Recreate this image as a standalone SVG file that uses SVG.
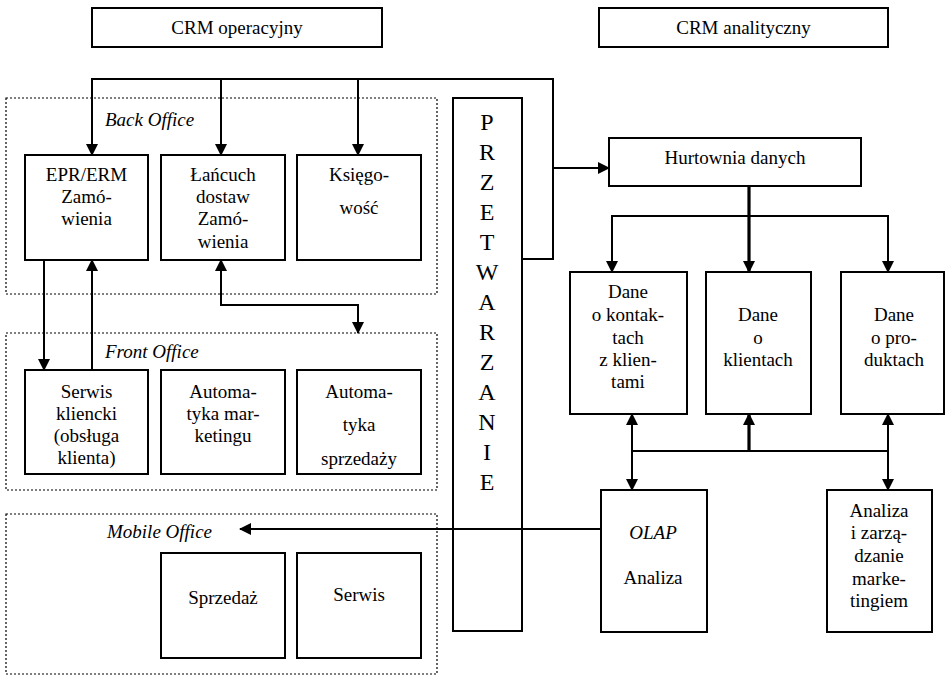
<svg xmlns="http://www.w3.org/2000/svg" width="946" height="676" viewBox="0 0 946 676" font-family="'Liberation Serif', 'DejaVu Serif', serif">
<style>
.box{fill:#fff;stroke:#000;stroke-width:2}
.grp{fill:none;stroke:#000;stroke-width:1.2;stroke-dasharray:2,2}
.t{font-family:'Liberation Serif','DejaVu Serif',serif;font-size:19px;fill:#000;text-anchor:middle}
.i{font-family:'Liberation Serif','DejaVu Serif',serif;font-size:19px;font-style:italic;fill:#000}
.big{font-family:'Liberation Serif','DejaVu Serif',serif;font-size:24px;fill:#000;text-anchor:middle}
.c{fill:none;stroke:#000;stroke-width:2}
.ct{fill:none;stroke:#000;stroke-width:3.2}
.a{marker-end:url(#ah)}
.aa{marker-start:url(#ah);marker-end:url(#ah)}
</style>
<defs>
<marker id="ah" viewBox="0 0 12 12" refX="11" refY="6" markerWidth="12" markerHeight="12" markerUnits="userSpaceOnUse" orient="auto-start-reverse">
<path d="M0,0 L12,6 L0,12 z" fill="#000"/>
</marker>
</defs>
<rect width="946" height="676" fill="#fff"/>

<g id="crm-operacyjny"><rect class="box" x="92" y="8" width="290" height="39"/><text class="t" x="237" y="34">CRM operacyjny</text></g>
<g id="crm-analityczny"><rect class="box" x="599" y="8" width="289" height="39"/><text class="t" x="743.5" y="34">CRM analityczny</text></g>

<g id="back-office"><rect class="grp" x="6" y="98" width="431" height="196"/><text class="i" x="105" y="126">Back Office</text></g>
<g id="front-office"><rect class="grp" x="6" y="333" width="431" height="157"/><text class="i" x="105" y="358">Front Office</text></g>
<g id="mobile-office"><rect class="grp" x="6" y="514" width="431" height="160"/><text class="i" x="107" y="538">Mobile Office</text></g>

<g id="epr"><rect class="box" x="25" y="155" width="123" height="105"/><text class="t" x="86.5" y="181">EPR/ERM</text><text class="t" x="86.5" y="203">Zamó-</text><text class="t" x="86.5" y="225">wienia</text></g>
<g id="lancuch"><rect class="box" x="161" y="155" width="124" height="105"/><text class="t" x="223" y="181">Łańcuch</text><text class="t" x="223" y="203">dostaw</text><text class="t" x="223" y="225">Zamó-</text><text class="t" x="223" y="248">wienia</text></g>
<g id="ksiegowosc"><rect class="box" x="297" y="155" width="124" height="105"/><text class="t" x="359" y="181">Księgo-</text><text class="t" x="359" y="214">wość</text></g>

<g id="serwis-kliencki"><rect class="box" x="25" y="370" width="123" height="104"/><text class="t" x="86.5" y="398">Serwis</text><text class="t" x="86.5" y="420">kliencki</text><text class="t" x="86.5" y="442">(obsługa</text><text class="t" x="86.5" y="464">klienta)</text></g>
<g id="automatyka-marketingu"><rect class="box" x="161" y="370" width="124" height="104"/><text class="t" x="223" y="398">Automa-</text><text class="t" x="223" y="420">tyka mar-</text><text class="t" x="223" y="442">ketingu</text></g>
<g id="automatyka-sprzedazy"><rect class="box" x="297" y="370" width="124" height="104"/><text class="t" x="359" y="398">Automa-</text><text class="t" x="359" y="431">tyka</text><text class="t" x="359" y="465">sprzedaży</text></g>

<g id="sprzedaz"><rect class="box" x="161" y="553" width="124" height="105"/><text class="t" x="223" y="604">Sprzedaż</text></g>
<g id="serwis"><rect class="box" x="297" y="553" width="124" height="105"/><text class="t" x="359" y="601">Serwis</text></g>

<g id="przetwarzanie"><rect class="box" x="453" y="98" width="69" height="533"/>
<text class="big" x="487" y="130">P</text><text class="big" x="487" y="160">R</text><text class="big" x="487" y="190">Z</text><text class="big" x="487" y="220">E</text><text class="big" x="487" y="250">T</text><text class="big" x="487" y="280">W</text><text class="big" x="487" y="310">A</text><text class="big" x="487" y="340">R</text><text class="big" x="487" y="370">Z</text><text class="big" x="487" y="400">A</text><text class="big" x="487" y="430">N</text><text class="big" x="487" y="460">I</text><text class="big" x="487" y="490">E</text></g>

<g id="hurtownia"><rect class="box" x="609" y="138" width="252" height="48"/><text class="t" x="735" y="164">Hurtownia danych</text></g>
<g id="dane-kontakty"><rect class="box" x="570" y="272" width="117" height="142"/><text class="t" x="628" y="298">Dane</text><text class="t" x="628" y="321">o kontak-</text><text class="t" x="628" y="344">tach</text><text class="t" x="628" y="366">z klien-</text><text class="t" x="628" y="388">tami</text></g>
<g id="dane-klienci"><rect class="box" x="706" y="272" width="105" height="142"/><text class="t" x="758" y="321">Dane</text><text class="t" x="758" y="344">o</text><text class="t" x="758" y="366">klientach</text></g>
<g id="dane-produkty"><rect class="box" x="841" y="272" width="103" height="142"/><text class="t" x="894" y="321">Dane</text><text class="t" x="894" y="344">o pro-</text><text class="t" x="894" y="366">duktach</text></g>
<g id="olap"><rect class="box" x="601" y="490" width="106" height="142"/><text class="i" x="653" y="539" text-anchor="middle">OLAP</text><text class="t" x="653" y="584">Analiza</text></g>
<g id="analiza-marketing"><rect class="box" x="827" y="490" width="105" height="142"/><text class="t" x="879" y="517">Analiza</text><text class="t" x="879" y="539">i zarzą-</text><text class="t" x="879" y="562">dzanie</text><text class="t" x="879" y="585">marke-</text><text class="t" x="879" y="607">tingiem</text></g>

<g id="connectors">
<path class="c a" d="M522,259 H553 V79 H92 V155"/>
<path class="c a" d="M221,79 V155"/>
<path class="c a" d="M358,79 V155"/>
<path class="c a" d="M553,168 H609"/>
<path class="ct a" d="M749,186 V272"/>
<path class="c aa" d="M612,272 V216 H888 V272"/>
<path class="c aa" d="M632,414 V490"/>
<path class="c aa" d="M888,414 V490"/>
<path class="c" d="M632,451 H888"/>
<path class="ct a" d="M749,451 V414"/>
<path class="c a" d="M601,529 H240"/>
<path class="c a" d="M44,260 V370"/>
<path class="c a" d="M92,370 V260"/>
<path class="c aa" d="M221,260 V305 H358 V333"/>
</g>
</svg>
